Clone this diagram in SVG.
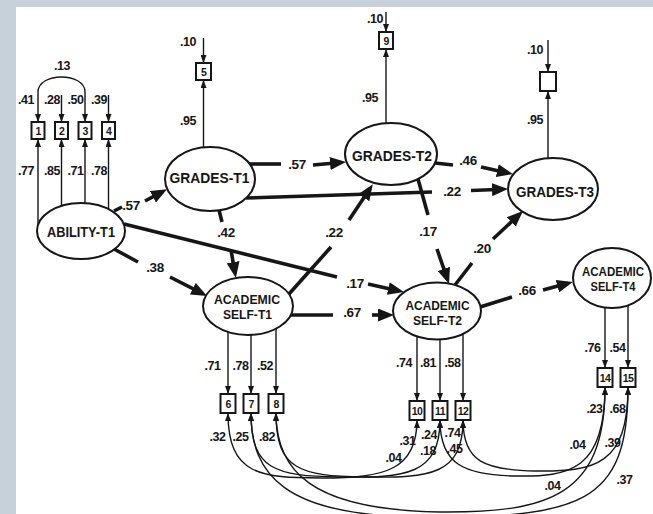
<svg xmlns="http://www.w3.org/2000/svg" width="653" height="514" viewBox="0 0 653 514">
<style>
text{font-family:"Liberation Sans",Arial,sans-serif;font-weight:bold;fill:#161616}
.l{font-size:12.5px;text-anchor:middle;letter-spacing:-0.5px}
.s{font-size:13.5px;text-anchor:middle;letter-spacing:-0.4px}
.n{font-size:15px;text-anchor:middle}
.m{font-size:13px;text-anchor:middle}
.bx{font-size:10.5px;text-anchor:middle;letter-spacing:-0.6px}
ellipse,rect.b{fill:#fff;stroke:#161616;stroke-width:2}
.t{stroke:#161616;stroke-width:1.4;fill:none}
.a{marker-end:url(#sa)}
.c{marker-start:url(#sa);marker-end:url(#sa)}
.k{stroke:#161616;stroke-width:3.6;fill:none}
.ka{marker-end:url(#ba)}
</style>
<defs>
<marker id="sa" viewBox="0 0 8 6" refX="8" refY="3" markerWidth="8" markerHeight="6" markerUnits="userSpaceOnUse" orient="auto-start-reverse"><path d="M0,0L8,3L0,6z" fill="#161616"/></marker>
<marker id="ba" viewBox="0 0 16 13" refX="11" refY="6.5" markerWidth="16" markerHeight="13" markerUnits="userSpaceOnUse" orient="auto"><path d="M0,0L16,6.5L0,13z" fill="#161616"/></marker>
</defs>
<rect x="0" y="0" width="653" height="514" fill="#c6d1d9"/>
<rect x="16" y="7" width="637" height="507" fill="#fff"/>

<g id="connectors">
<path class="t c" d="M38,122 L38,92 C38,72 85,72 85,92 L85,122"/>
<path class="t a" d="M61.5,95 L61.5,122"/>
<path class="t a" d="M108.5,95 L108.5,122"/>
<path class="t a" d="M38,225 L38,139"/>
<path class="t a" d="M61.5,206 L61.5,139"/>
<path class="t a" d="M85,203 L85,139"/>
<path class="t a" d="M108.5,209 L108.5,139"/>
<path class="t a" d="M203.5,38 L203.5,63"/>
<path class="t a" d="M203.5,147 L203.5,80"/>
<path class="t a" d="M386,12 L386,32"/>
<path class="t a" d="M386,123 L386,49"/>
<path class="t a" d="M548,40 L548,72"/>
<path class="t a" d="M548,158 L548,91"/>
<path class="t a" d="M228,332 L228,394"/>
<path class="t a" d="M251,335 L251,394"/>
<path class="t a" d="M276,328 L276,394"/>
<path class="t a" d="M417,336 L417,401"/>
<path class="t a" d="M440,339 L440,401"/>
<path class="t a" d="M463,334 L463,401"/>
<path class="t a" d="M605,308 L605,368"/>
<path class="t a" d="M628,305 L628,368"/>
<path class="t c" d="M228,413 C228,475 260,478 322,478 C385,478 417,470 417,420"/>
<path class="t c" d="M251,413 C251,470 275,476 340,477 C405,478 440,475 440,420"/>
<path class="t c" d="M276,413 C276,470 300,476 365,477 C430,478 463,475 463,420"/>
<path class="t c" d="M440,420 C440,465 465,475 515,476 C570,477 605,470 605,387"/>
<path class="t c" d="M463,420 C463,462 485,470 535,471 C595,472 628,465 628,387"/>
<path class="t c" d="M251,413 C251,475 285,516 420,517 C580,518 628,505 628,387"/>
<path class="t c" d="M276,413 C276,470 310,510 440,512 C550,513 605,495 605,387"/>
<path class="k" d="M114,211 L122,207"/>
<path class="k ka" d="M145,201 L162.6,191.6"/>
<path class="k" d="M249,164 L281,164"/>
<path class="k ka" d="M313,165 L341,162.5"/>
<path class="k" d="M246,198 L432,192"/>
<path class="k ka" d="M471,190.5 L503,189.3"/>
<path class="k" d="M435,163 L453,165"/>
<path class="k ka" d="M481,167 L508,173"/>
<path class="k" d="M114,249 L138,262"/>
<path class="k ka" d="M170,277 L202.6,293.7"/>
<path class="k" d="M124,224 L337,277"/>
<path class="k ka" d="M368,284 L399,290.9"/>
<path class="k" d="M219,210 L222,222"/>
<path class="k ka" d="M231,250 L235,273"/>
<path class="k" d="M289,294 L331,247"/>
<path class="k ka" d="M349,220 L370,188.5"/>
<path class="k" d="M418,179 L428,215"/>
<path class="k ka" d="M437,249 L447.4,279.3"/>
<path class="k" d="M455,285 L472,263"/>
<path class="k ka" d="M493,239 L519.3,214.4"/>
<path class="k" d="M291,315 L333,315"/>
<path class="k ka" d="M372,315 L389,315"/>
<path class="k" d="M480,307 L512,297"/>
<path class="k ka" d="M543,290 L568,283.3"/>
</g>

<g id="edge-labels">
<text class="l" x="62" y="70">.13</text>
<text class="l" x="26" y="104">.41</text>
<text class="l" x="52" y="104">.28</text>
<text class="l" x="75.5" y="104">.50</text>
<text class="l" x="99" y="104">.39</text>
<text class="l" x="26" y="175">.77</text>
<text class="l" x="52" y="175">.85</text>
<text class="l" x="75.5" y="175">.71</text>
<text class="l" x="99" y="175">.78</text>
<text class="l" x="188" y="46">.10</text>
<text class="l" x="188" y="125">.95</text>
<text class="l" x="375" y="23">.10</text>
<text class="l" x="370" y="102">.95</text>
<text class="l" x="535" y="54">.10</text>
<text class="l" x="535" y="124">.95</text>
<text class="s" x="131" y="210">.57</text>
<text class="s" x="297" y="169">.57</text>
<text class="s" x="452" y="196">.22</text>
<text class="s" x="468" y="165">.46</text>
<text class="s" x="155" y="272">.38</text>
<text class="s" x="355" y="288">.17</text>
<text class="s" x="226" y="237">.42</text>
<text class="s" x="334" y="237">.22</text>
<text class="s" x="428" y="236">.17</text>
<text class="s" x="482" y="253">.20</text>
<text class="s" x="352" y="317">.67</text>
<text class="s" x="527" y="295">.66</text>
<text class="l" x="212.5" y="370">.71</text>
<text class="l" x="240.5" y="370">.78</text>
<text class="l" x="265" y="370">.52</text>
<text class="l" x="217.5" y="441">.32</text>
<text class="l" x="240.5" y="441">.25</text>
<text class="l" x="267" y="441">.82</text>
<text class="l" x="404" y="367">.74</text>
<text class="l" x="428" y="367">.81</text>
<text class="l" x="452.5" y="367">.58</text>
<text class="l" x="407.5" y="445">.31</text>
<text class="l" x="393.5" y="462">.04</text>
<text class="l" x="429" y="439">.24</text>
<text class="l" x="428" y="455">.18</text>
<text class="l" x="452.5" y="437">.74</text>
<text class="l" x="454.5" y="453">.45</text>
<text class="l" x="592.5" y="352">.76</text>
<text class="l" x="617.5" y="352">.54</text>
<text class="l" x="594.5" y="413">.23</text>
<text class="l" x="617.5" y="413">.68</text>
<text class="l" x="577.5" y="449">.04</text>
<text class="l" x="612.5" y="447">.39</text>
<text class="l" x="624.5" y="484">.37</text>
<text class="l" x="552.5" y="490">.04</text>
</g>

<g id="ability-t1"><ellipse cx="81" cy="231" rx="44" ry="28"/><text class="n" x="81" y="237" textLength="68" lengthAdjust="spacingAndGlyphs">ABILITY-T1</text></g>
<g id="grades-t1"><ellipse cx="210" cy="179" rx="45" ry="32"/><text class="n" x="209.5" y="183" textLength="80" lengthAdjust="spacingAndGlyphs">GRADES-T1</text></g>
<g id="grades-t2"><ellipse cx="391" cy="154" rx="46" ry="31"/><text class="n" x="392" y="161" textLength="80" lengthAdjust="spacingAndGlyphs">GRADES-T2</text></g>
<g id="grades-t3"><ellipse cx="553" cy="189" rx="45" ry="31"/><text class="n" x="555" y="197" textLength="78" lengthAdjust="spacingAndGlyphs">GRADES-T3</text></g>
<g id="academic-self-t1"><ellipse cx="248" cy="306" rx="45" ry="29"/><text class="m" x="247" y="304" textLength="66" lengthAdjust="spacingAndGlyphs">ACADEMIC</text><text class="m" x="247.5" y="319" textLength="49" lengthAdjust="spacingAndGlyphs">SELF-T1</text></g>
<g id="academic-self-t2"><ellipse cx="437" cy="311" rx="44" ry="28.5"/><text class="m" x="437.5" y="310" textLength="64" lengthAdjust="spacingAndGlyphs">ACADEMIC</text><text class="m" x="437.5" y="325" textLength="49" lengthAdjust="spacingAndGlyphs">SELF-T2</text></g>
<g id="academic-self-t4"><ellipse cx="612" cy="278" rx="39" ry="30"/><text class="m" x="613" y="276" textLength="62" lengthAdjust="spacingAndGlyphs">ACADEMIC</text><text class="m" x="613" y="291" textLength="45" lengthAdjust="spacingAndGlyphs">SELF-T4</text></g>

<g id="box-1"><rect class="b" x="31.5" y="122" width="13" height="17"/><text class="bx" x="38" y="134.5">1</text></g>
<g id="box-2"><rect class="b" x="55" y="122" width="13" height="17"/><text class="bx" x="61.5" y="134.5">2</text></g>
<g id="box-3"><rect class="b" x="78.5" y="122" width="13" height="17"/><text class="bx" x="85" y="134.5">3</text></g>
<g id="box-4"><rect class="b" x="102" y="122" width="13" height="17"/><text class="bx" x="108.5" y="134.5">4</text></g>
<g id="box-5"><rect class="b" x="196" y="63" width="15" height="17"/><text class="bx" x="203.5" y="75.5">5</text></g>
<g id="box-9"><rect class="b" x="379" y="32" width="14" height="17"/><text class="bx" x="386" y="44.5">9</text></g>
<g id="box-grades-t3"><rect class="b" x="540" y="72" width="16" height="19"/></g>
<g id="box-6"><rect class="b" x="220.5" y="394" width="15" height="19"/><text class="bx" x="228" y="407.5">6</text></g>
<g id="box-7"><rect class="b" x="243.5" y="394" width="15" height="19"/><text class="bx" x="251" y="407.5">7</text></g>
<g id="box-8"><rect class="b" x="268.5" y="394" width="15" height="19"/><text class="bx" x="276" y="407.5">8</text></g>
<g id="box-10"><rect class="b" x="409.5" y="401" width="15" height="19"/><text class="bx" x="417" y="414.5">10</text></g>
<g id="box-11"><rect class="b" x="432.5" y="401" width="15" height="19"/><text class="bx" x="440" y="414.5">11</text></g>
<g id="box-12"><rect class="b" x="455.5" y="401" width="15" height="19"/><text class="bx" x="463" y="414.5">12</text></g>
<g id="box-14"><rect class="b" x="597.5" y="368" width="15" height="19"/><text class="bx" x="605" y="381.5">14</text></g>
<g id="box-15"><rect class="b" x="620.5" y="368" width="15" height="19"/><text class="bx" x="628" y="381.5">15</text></g>
</svg>
